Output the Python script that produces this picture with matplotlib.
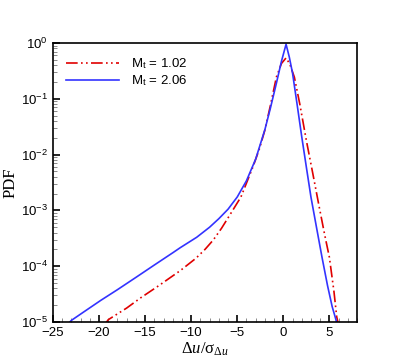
import matplotlib
matplotlib.use('Agg')
import matplotlib.pyplot as plt
from matplotlib.ticker import LogLocator, MultipleLocator, NullFormatter

plt.rcParams['font.family'] = ['Liberation Sans', 'DejaVu Sans']
plt.rcParams['mathtext.fontset'] = 'custom'
plt.rcParams['mathtext.rm'] = 'Liberation Serif'
plt.rcParams['mathtext.it'] = 'Liberation Serif:italic'

# Mt = 1.02
x_m1 = [-19.4, -19.0, -17.0, -15.5, -13.5, -12.3, -11.2, -9.5, -8.5, -7.6, -6.7, -5.8, -4.6,
        -3.3, -2.6, -2.0, -1.4, -0.75, -0.2, 0.3, 0.7, 1.2, 1.8, 2.5, 3.2, 3.9, 4.5, 5.0,
        5.5, 5.8, 6.0]
pdf_m1 = [8.9e-6, 1.1e-5, 1.78e-5, 2.7e-5, 4.5e-5, 6.2e-5, 8.3e-5, 1.38e-4, 2.0e-4, 2.95e-4,
          4.8e-4, 8.3e-4, 1.74e-3, 6.0e-3, 1.26e-2, 2.75e-2, 7.6e-2, 0.245, 0.43, 0.54, 0.42,
          0.245, 0.079, 1.8e-2, 4.6e-3, 1.15e-3, 3.6e-4, 1.45e-4, 3.5e-5, 1.23e-5, 8.9e-6]

# Mt = 2.06
x_m2 = [-23.4, -23.0, -21.5, -19.8, -18.0, -16.0, -14.0, -12.0, -11.2, -9.4, -8.0, -7.0,
        -6.0, -5.0, -4.0, -3.0, -2.0, -1.4, -0.75, -0.2, 0.3, 0.65, 1.0, 1.5, 2.0, 2.5,
        3.0, 3.6, 4.2, 4.8, 5.3, 5.7, 5.85]
pdf_m2 = [9.1e-6, 1.07e-5, 1.58e-5, 2.45e-5, 3.8e-5, 6.3e-5, 1.05e-4, 1.74e-4, 2.14e-4, 3.3e-4,
          5.0e-4, 7.1e-4, 1.05e-3, 1.74e-3, 3.4e-3, 8.3e-3, 2.8e-2, 6.8e-2, 0.19, 0.47, 0.95,
          0.56, 0.29, 0.079, 2.1e-2, 6.0e-3, 1.74e-3, 5.0e-4, 1.45e-4, 4.5e-5, 1.9e-5, 1.12e-5,
          8.9e-6]

fig = plt.figure(figsize=(4.07, 3.62), dpi=100)
ax = fig.add_axes([53 / 407, 1 - 322 / 362, 304 / 407, 279 / 362])

ax.semilogy(x_m1, pdf_m1, color='#e00000', lw=1.2, dashes=(7, 2, 1, 2, 1, 2),
            label=r'M$_\mathdefault{t}$ = 1.02')
ax.semilogy(x_m2, pdf_m2, color='#3333ff', lw=1.2, label=r'M$_\mathdefault{t}$ = 2.06')

ax.set_xlim(-25, 8)
ax.set_ylim(1e-5, 1)
ax.xaxis.set_major_locator(MultipleLocator(5))
ax.xaxis.set_minor_locator(MultipleLocator(1))
ax.yaxis.set_major_locator(LogLocator(base=10, numticks=10))
ax.yaxis.set_minor_locator(LogLocator(base=10, subs=range(2, 10), numticks=10))
ax.yaxis.set_minor_formatter(NullFormatter())
ax.tick_params(which='both', direction='in', top=False, right=False, labelsize=9.5,
               color='black')
ax.tick_params(which='major', length=5, width=1.2)
ax.tick_params(which='minor', length=3, width=0.6, color='#777777')
for s in ax.spines.values():
    s.set_linewidth(1.2)

ax.set_ylabel('PDF', family='Liberation Serif', fontsize=12, labelpad=2)
ax.set_xlabel(r'$\Delta\mathit{u}/\mathrm{\sigma}_{\Delta\mathit{u}}$', fontsize=12, labelpad=1)

ax.legend(loc='upper left', frameon=False, fontsize=9.5, handlelength=4.0,
          borderaxespad=0.6, labelspacing=0.2, handletextpad=0.9)

fig.savefig('out.png', dpi=100)
